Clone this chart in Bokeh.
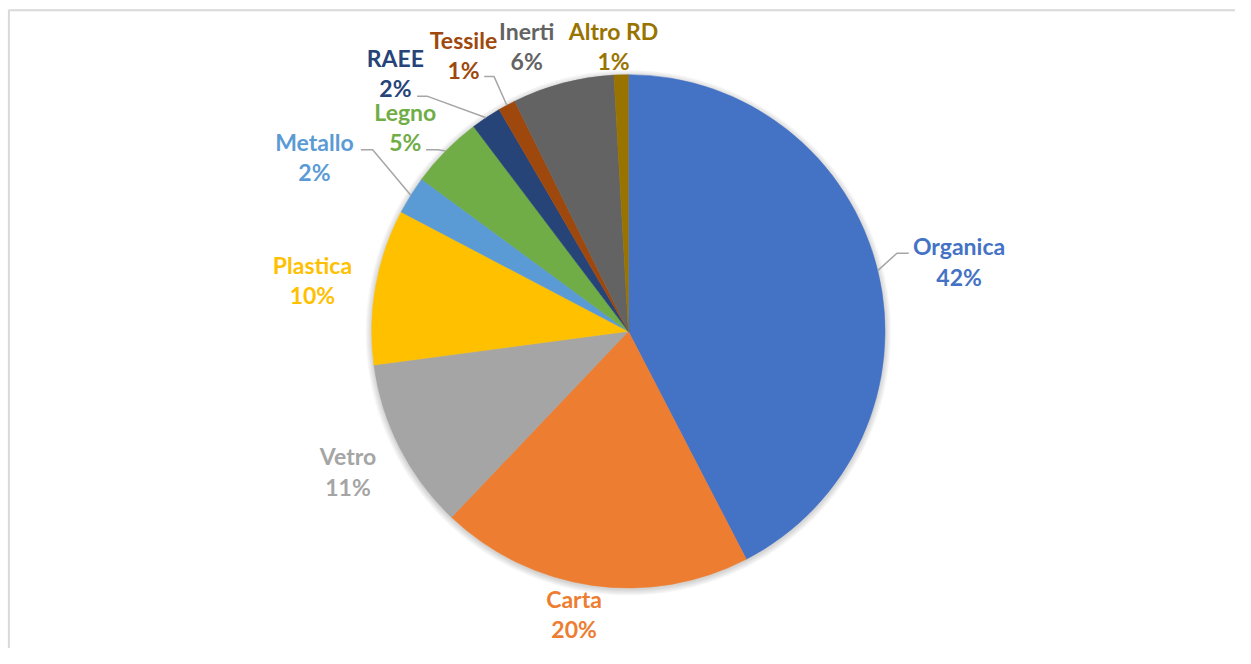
import math
from bokeh.plotting import figure
from bokeh.models import Range1d, ColumnDataSource
from bokeh.core.properties import value
from bokeh.embed import file_html
from bokeh.resources import INLINE

# ---- data ----
categories = ["Organica", "Carta", "Vetro", "Plastica", "Metallo", "Legno",
              "RAEE", "Tessile", "Inerti", "Altro RD"]
shares = [42.4, 19.7, 10.8, 9.8, 2.4, 4.6, 1.9, 1.1, 6.4, 0.9]
colors = ["#4472C4", "#ED7D31", "#A5A5A5", "#FFC000", "#5B9BD5", "#70AD47",
          "#264478", "#9E480E", "#636363", "#997300"]

# ---- layout (reference pixel positions, y measured downward) ----
REF_W, REF_H = 1251, 664
W, H = 1235, 648
KX, KY = W / REF_W, H / REF_H
CX, CY, R = 636, 339, 260
label_pos = {
    "Organica": (971, 252), "Carta": (581, 613), "Vetro": (352, 467),
    "Plastica": (316, 271), "Metallo": (318, 145), "Legno": (410, 114),
    "RAEE": (400, 59), "Tessile": (469, 40), "Inerti": (533, 31),
    "Altro RD": (621, 31),
}
leaders = {  # elbow point, end point (near label)
    "Organica": ((908, 259), (920, 259)),
    "Metallo": ((377, 153), (365, 153)),
    "Legno": ((443, 153), (431, 153)),
    "RAEE": ((432, 98), (422, 98)),
    "Tessile": ((500, 78), (490, 78)),
}
LINE_GAP = 31
FONT = "Lato"
FSIZE = "23px"

def Y(py):
    return REF_H - py

p = figure(width=W, height=H, output_backend="svg", toolbar_location=None,
           x_range=Range1d(0, REF_W), y_range=Range1d(0, REF_H),
           min_border=0, outline_line_color=None)
p.axis.visible = False
p.grid.visible = False
p.background_fill_color = "white"
p.border_fill_color = "white"

# chart border (top and left visible in the crop)
p.line(x=[8.5, 8.5], y=[0, Y(10)], line_color="#D9D9D9", line_width=2)
p.line(x=[8, REF_W], y=[Y(10), Y(10)], line_color="#D9D9D9", line_width=2)

# soft shadow
for i in range(1, 8):
    p.circle(x=[CX], y=[Y(CY) - 1.5], radius=R + i * 0.9, fill_color="black",
             fill_alpha=0.022, line_color=None)

total = sum(shares)
starts, ends, mids = [], [], []
cum = 0.0
for s in shares:
    a0 = math.pi / 2 - 2 * math.pi * cum / total
    cum += s
    a1 = math.pi / 2 - 2 * math.pi * cum / total
    starts.append(a0)
    ends.append(a1)
    mids.append((a0 + a1) / 2)

src = ColumnDataSource(dict(start=starts, end=ends, color=colors, cat=categories))
p.wedge(x=CX, y=Y(CY), radius=R, start_angle="start", end_angle="end",
        direction="clock", fill_color="color", line_color="color",
        line_width=0.5, source=src)

# leader lines
for cat, (elbow, end) in leaders.items():
    i = categories.index(cat)
    sx = CX + R * math.cos(mids[i])
    sy = Y(CY) + R * math.sin(mids[i]) * KX / KY
    p.line(x=[sx, elbow[0], end[0]], y=[sy, Y(elbow[1]), Y(end[1])],
           line_color="#A6A6A6", line_width=1.5)

# labels
for cat, s, c in zip(categories, shares, colors):
    lx, ly = label_pos[cat]
    pct = f"{round(s / total * 100)}%"
    p.text(x=[lx, lx], y=[Y(ly), Y(ly + LINE_GAP)], text=[cat, pct],
           text_color=c, text_font=value(FONT), text_font_size=FSIZE,
           text_font_style="bold", text_align="center", text_baseline="middle")

open("out.html", "w").write(file_html(p, INLINE))
